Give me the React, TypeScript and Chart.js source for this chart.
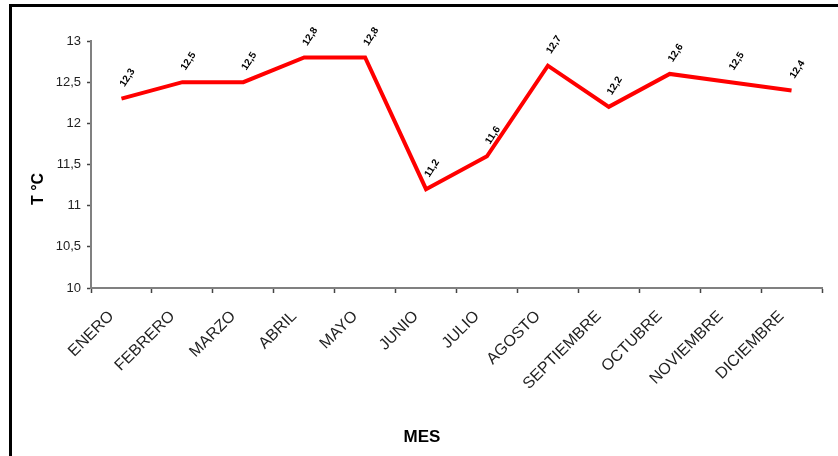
import React, { useEffect, useRef } from "react";
import { Chart, registerables } from "chart.js";

Chart.register(...registerables);

const months = [
  "ENERO", "FEBRERO", "MARZO", "ABRIL", "MAYO", "JUNIO",
  "JULIO", "AGOSTO", "SEPTIEMBRE", "OCTUBRE", "NOVIEMBRE", "DICIEMBRE",
];
const temperatures = [12.3, 12.5, 12.5, 12.8, 12.8, 11.2, 11.6, 12.7, 12.2, 12.6, 12.5, 12.4];
const yMin = 10;
const yMax = 13;
const yStep = 0.5;
const yTitle = "T °C";
const xTitle = "MES";

const FONT = "'Liberation Sans', Arial, sans-serif";
const fmt = (v: number) => String(v).replace(".", ",");

const decorPlugin = {
  id: "decor",
  beforeDraw(chart: any) {
    const ctx = chart.ctx;
    ctx.save();
    ctx.fillStyle = "#000";
    ctx.fillRect(9, 4, 3, 452);
    ctx.fillRect(9, 4, 829, 3);
    ctx.restore();
  },
  afterDraw(chart: any) {
    const ctx = chart.ctx;
    ctx.save();
    ctx.fillStyle = "#000";
    ctx.font = `bold 17px ${FONT}`;
    ctx.textAlign = "center";
    ctx.textBaseline = "middle";
    ctx.fillText(xTitle, 422, 437);
    ctx.translate(39, 189);
    ctx.rotate(-Math.PI / 2);
    ctx.font = `bold 16px ${FONT}`;
    ctx.fillText(yTitle, 0, 0);
    ctx.restore();
  },
  afterDatasetsDraw(chart: any) {
    const ctx = chart.ctx;
    const meta = chart.getDatasetMeta(0);
    ctx.save();
    ctx.fillStyle = "#000";
    ctx.font = `bold 10px ${FONT}`;
    ctx.textAlign = "center";
    ctx.textBaseline = "middle";
    meta.data.forEach((pt: any, i: number) => {
      ctx.save();
      ctx.translate(pt.x + 6, pt.y - 21);
      ctx.rotate((-57 * Math.PI) / 180);
      ctx.fillText(fmt(temperatures[i]), 0, 0);
      ctx.restore();
    });
    ctx.restore();
  },
};

export default function App() {
  const ref = useRef<HTMLCanvasElement | null>(null);
  useEffect(() => {
    if (!ref.current) return;
    const chart = new Chart(ref.current, {
      type: "line",
      data: {
        labels: months,
        datasets: [
          {
            data: temperatures,
            borderColor: "#ff0000",
            borderWidth: 4,
            pointRadius: 0,
            tension: 0,
            fill: false,
          },
        ],
      },
      options: {
        responsive: false,
        animation: false,
        devicePixelRatio: 1,
        layout: { padding: { top: 41, right: 16, left: 0, bottom: 0 } },
        plugins: { legend: { display: false }, tooltip: { enabled: false } },
        scales: {
          x: {
            type: "category",
            offset: true,
            afterFit(scale: any) {
              scale.height = 168;
            },
            grid: {
              offset: true,
              drawOnChartArea: false,
              drawTicks: true,
              tickLength: 5,
              tickWidth: 1.5,
              tickColor: "#444",
            },
            border: { display: true, color: "#808080", width: 2 },
            ticks: {
              autoSkip: false,
              minRotation: 45,
              maxRotation: 45,
              padding: 14,
              labelOffset: -10,
              color: "#222",
              font: { family: FONT, size: 16 },
            },
          },
          y: {
            min: yMin,
            max: yMax,
            afterFit(scale: any) {
              scale.width = 91;
            },
            grid: {
              drawOnChartArea: false,
              drawTicks: true,
              tickLength: 4,
              tickWidth: 1.5,
              tickColor: "#444",
            },
            border: { display: true, color: "#808080", width: 2 },
            ticks: {
              stepSize: yStep,
              padding: 6,
              color: "#222",
              font: { family: FONT, size: 13 },
              callback: (v: any) => fmt(Number(v)),
            },
          },
        },
      },
      plugins: [decorPlugin],
    });
    return () => chart.destroy();
  }, []);
  return (
    <div style={{ position: "absolute", left: 0, top: 0, width: 838, height: 456 }}>
      <canvas ref={ref} width={838} height={456} style={{ display: "block" }} />
    </div>
  );
}
